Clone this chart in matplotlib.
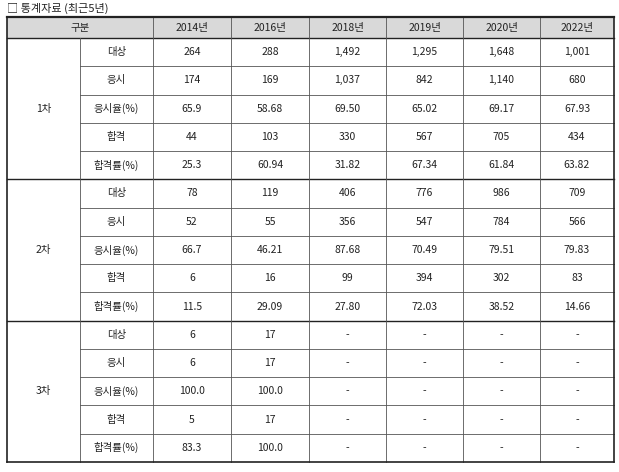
import matplotlib
matplotlib.use("Agg")
import matplotlib.pyplot as plt
from matplotlib.patches import Rectangle

plt.rcParams['font.family'] = ['Noto Sans CJK KR', 'DejaVu Sans']

title = "□ 통계자료 (최근5년)"
header_label = "구분"
years = ["2014년", "2016년", "2018년", "2019년", "2020년", "2022년"]
groups = ["1차", "2차", "3차"]
items = ["대상", "응시", "응시율(%)", "합격", "합격률(%)"]
data_1 = [["264", "288", "1,492", "1,295", "1,648", "1,001"],
          ["174", "169", "1,037", "842", "1,140", "680"],
          ["65.9", "58.68", "69.50", "65.02", "69.17", "67.93"],
          ["44", "103", "330", "567", "705", "434"],
          ["25.3", "60.94", "31.82", "67.34", "61.84", "63.82"]]
data_2 = [["78", "119", "406", "776", "986", "709"],
          ["52", "55", "356", "547", "784", "566"],
          ["66.7", "46.21", "87.68", "70.49", "79.51", "79.83"],
          ["6", "16", "99", "394", "302", "83"],
          ["11.5", "29.09", "27.80", "72.03", "38.52", "14.66"]]
data_3 = [["6", "17", "-", "-", "-", "-"],
          ["6", "17", "-", "-", "-", "-"],
          ["100.0", "100.0", "-", "-", "-", "-"],
          ["5", "17", "-", "-", "-", "-"],
          ["83.3", "100.0", "-", "-", "-", "-"]]
all_data = [data_1, data_2, data_3]

W, H = 619, 472
fig = plt.figure(figsize=(W/100, H/100), dpi=100)
ax = fig.add_axes([0, 0, 1, 1])
ax.set_xlim(0, W); ax.set_ylim(H, 0); ax.axis('off')

fs = 7.5
xs = [7, 80, 153, 231, 309, 386, 463, 540, 614]
top, hdr_bot, bot = 17, 38, 462
nrows = 15
rh = (bot - hdr_bot) / nrows
ys = [hdr_bot + i*rh for i in range(nrows+1)]

ax.text(7, 8, title, fontsize=fs+0.5, va='center', ha='left', color='#222')
ax.add_patch(Rectangle((xs[0], top), xs[-1]-xs[0], hdr_bot-top, facecolor='#d9d9d9', edgecolor='none'))

lc = '#555'
ax.text((xs[0]+xs[2])/2, (top+hdr_bot)/2, header_label, fontsize=fs, ha='center', va='center', color='#222')
for j, y in enumerate(years):
    ax.text((xs[j+2]+xs[j+3])/2, (top+hdr_bot)/2, y, fontsize=fs, ha='center', va='center', color='#222')

for g, (gname, gdata) in enumerate(zip(groups, all_data)):
    gy0 = ys[g*5]; gy1 = ys[g*5+5]
    ax.text((xs[0]+xs[1])/2, (gy0+gy1)/2, gname, fontsize=fs, ha='center', va='center', color='#222')
    for i, it in enumerate(items):
        r = g*5 + i
        yc = (ys[r]+ys[r+1])/2
        ax.text((xs[1]+xs[2])/2, yc, it, fontsize=fs, ha='center', va='center', color='#222')
        for j, v in enumerate(gdata[i]):
            ax.text((xs[j+2]+xs[j+3])/2, yc, v, fontsize=fs, ha='center', va='center', color='#222')
        if i > 0:
            ax.plot([xs[1], xs[-1]], [ys[r], ys[r]], color=lc, lw=0.6)
    ax.plot([xs[0], xs[-1]], [gy0, gy0], color='#222', lw=1.0)

# vertical lines
for k, x in enumerate(xs):
    y0 = top if k not in (1,) else hdr_bot
    lw = 1.2 if k in (0, len(xs)-1) else 0.6
    ax.plot([x, x], [y0, bot], color=lc if lw < 1 else '#222', lw=lw)
ax.plot([xs[0], xs[-1]], [top, top], color='#222', lw=1.6)
ax.plot([xs[0], xs[-1]], [bot, bot], color='#222', lw=1.2)

fig.savefig("out.png", dpi=100)
